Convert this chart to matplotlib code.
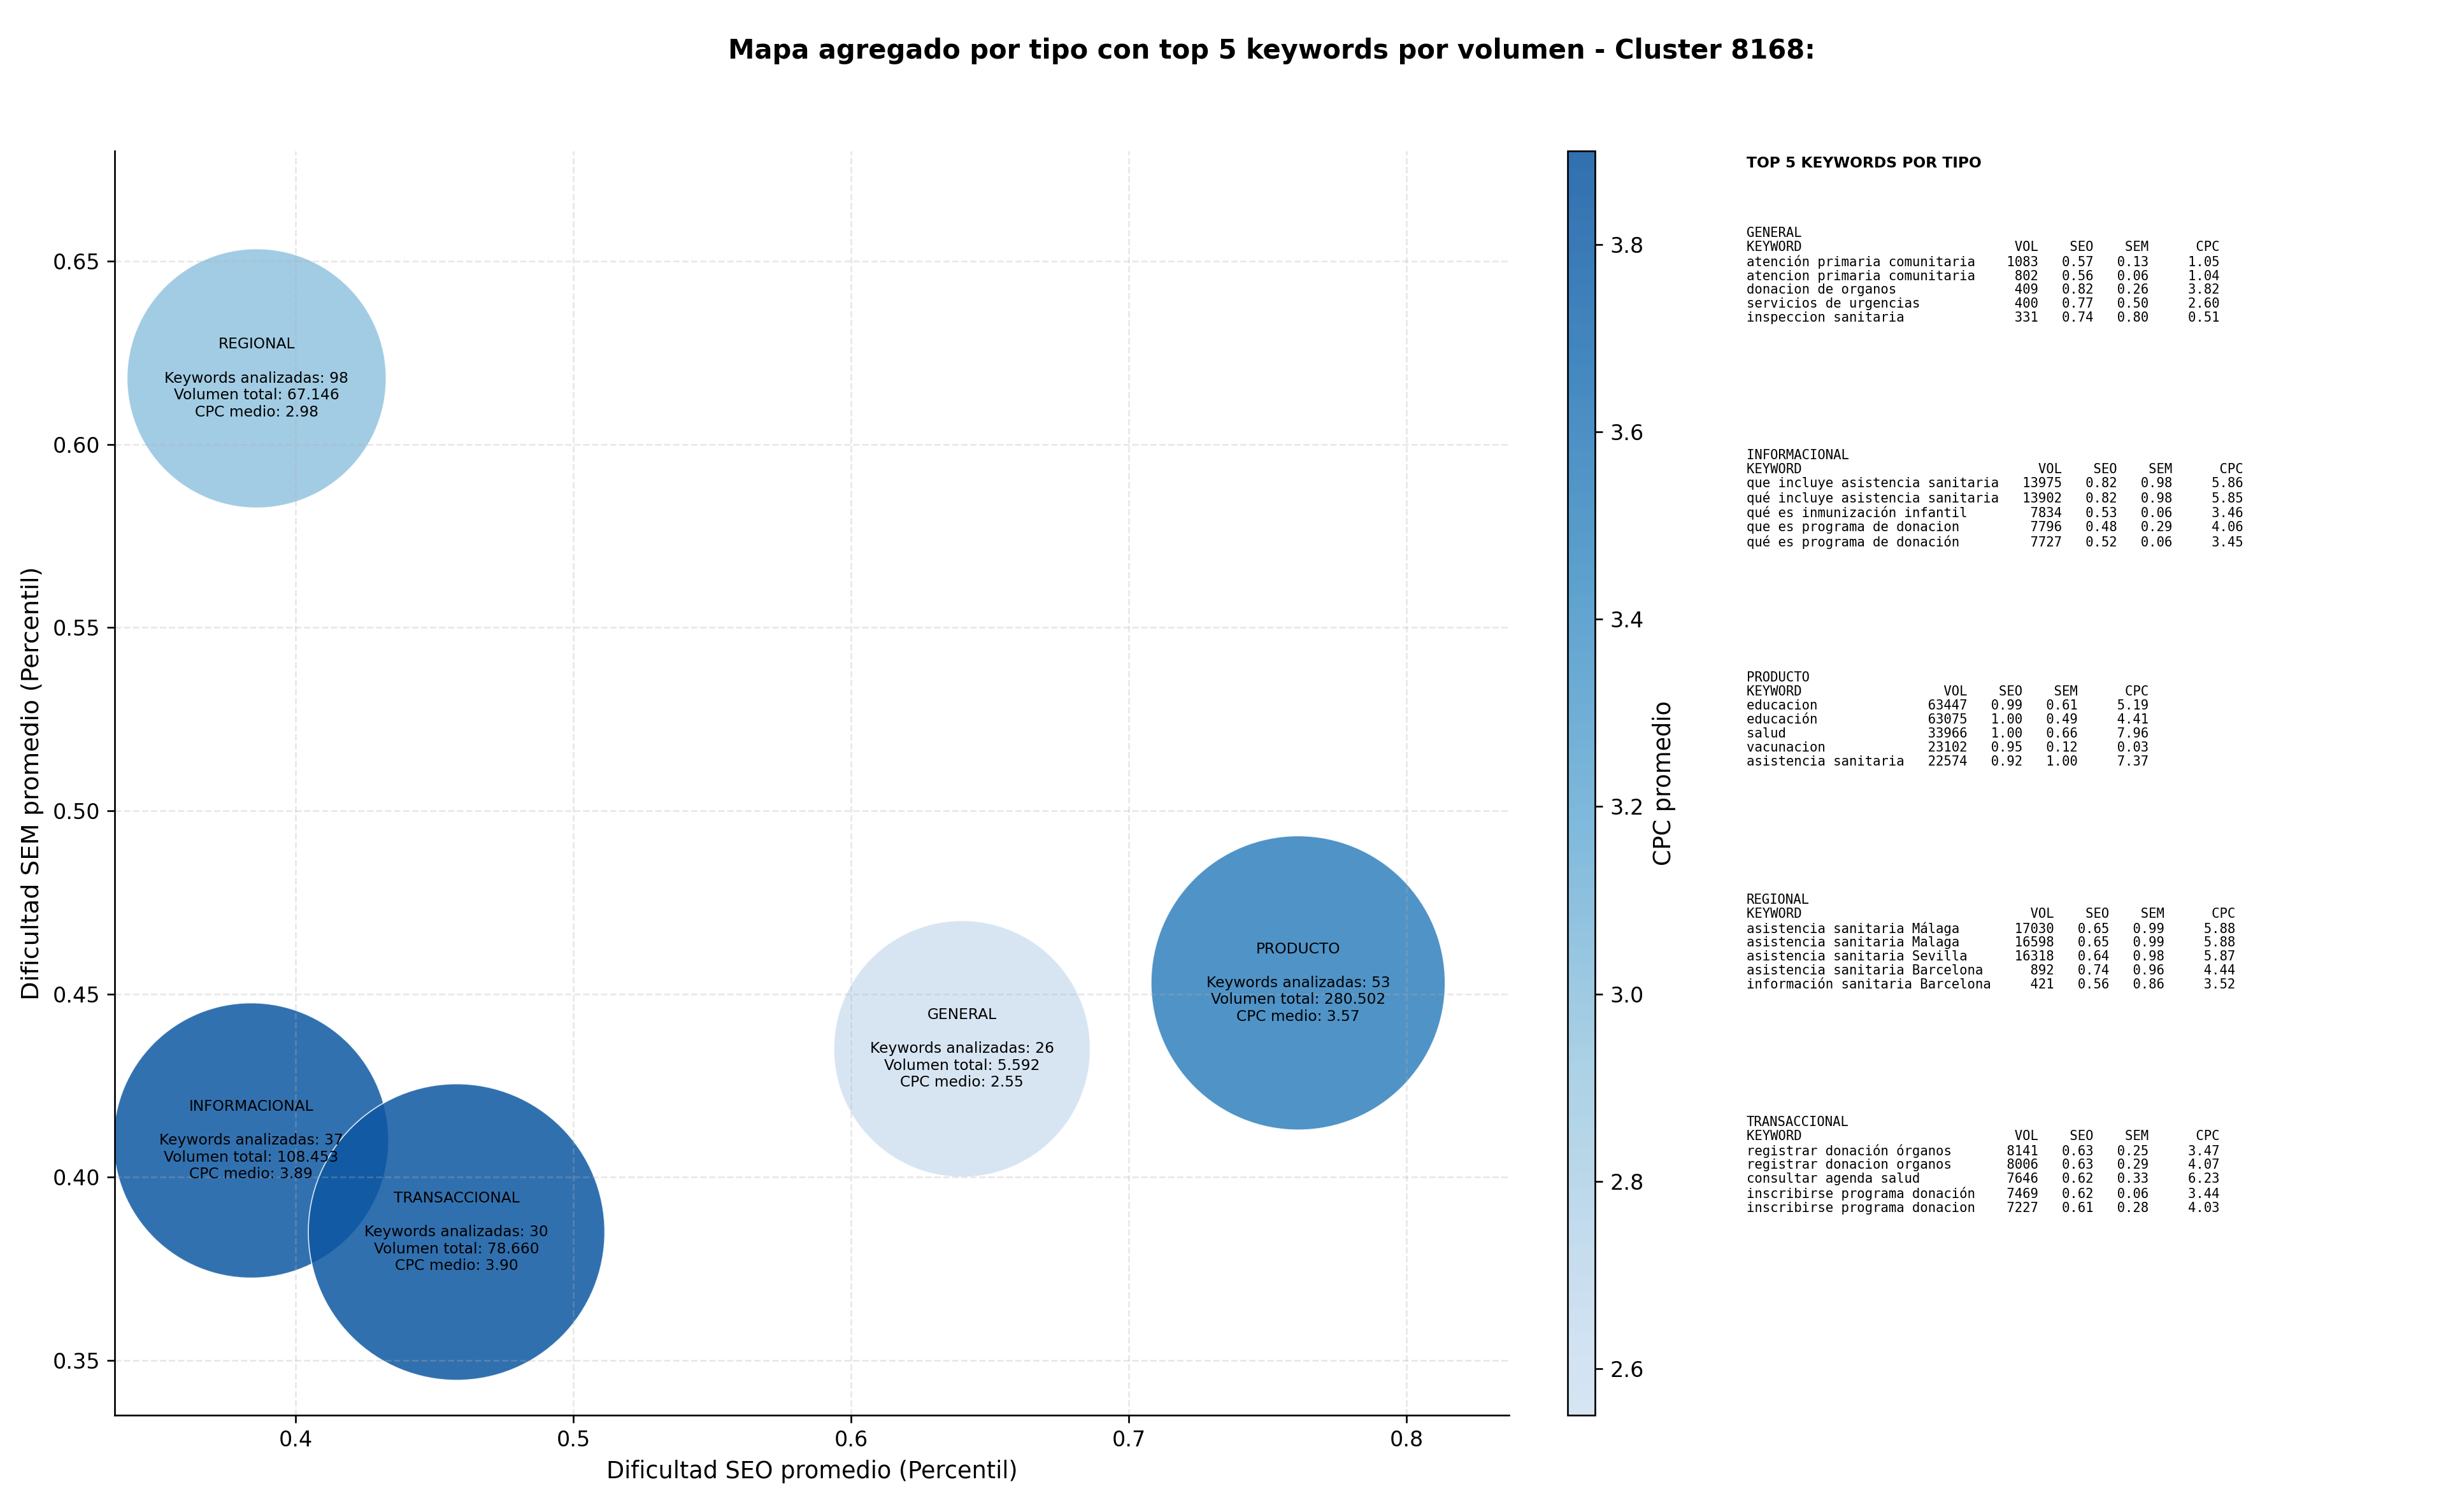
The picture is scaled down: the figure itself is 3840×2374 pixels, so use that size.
import matplotlib
matplotlib.use("Agg")
import matplotlib.pyplot as plt
from matplotlib.colors import ListedColormap
import numpy as np

tipos = ["REGIONAL", "INFORMACIONAL", "TRANSACCIONAL", "GENERAL", "PRODUCTO"]
seo = [0.386, 0.384, 0.458, 0.640, 0.761]
sem = [0.618, 0.410, 0.385, 0.435, 0.453]
n_kw = [98, 37, 30, 26, 53]
vol_total = ["67.146", "108.453", "78.660", "5.592", "280.502"]
cpc = [2.98, 3.89, 3.90, 2.55, 3.57]
bubble_size = [14900, 16800, 19500, 14600, 19200]

top_kw = {
    "GENERAL": [("atención primaria comunitaria", 1083, 0.57, 0.13, 1.05),
                ("atencion primaria comunitaria", 802, 0.56, 0.06, 1.04),
                ("donacion de organos", 409, 0.82, 0.26, 3.82),
                ("servicios de urgencias", 400, 0.77, 0.50, 2.60),
                ("inspeccion sanitaria", 331, 0.74, 0.80, 0.51)],
    "INFORMACIONAL": [("que incluye asistencia sanitaria", 13975, 0.82, 0.98, 5.86),
                      ("qué incluye asistencia sanitaria", 13902, 0.82, 0.98, 5.85),
                      ("qué es inmunización infantil", 7834, 0.53, 0.06, 3.46),
                      ("que es programa de donacion", 7796, 0.48, 0.29, 4.06),
                      ("qué es programa de donación", 7727, 0.52, 0.06, 3.45)],
    "PRODUCTO": [("educacion", 63447, 0.99, 0.61, 5.19),
                 ("educación", 63075, 1.00, 0.49, 4.41),
                 ("salud", 33966, 1.00, 0.66, 7.96),
                 ("vacunacion", 23102, 0.95, 0.12, 0.03),
                 ("asistencia sanitaria", 22574, 0.92, 1.00, 7.37)],
    "REGIONAL": [("asistencia sanitaria Málaga", 17030, 0.65, 0.99, 5.88),
                 ("asistencia sanitaria Malaga", 16598, 0.65, 0.99, 5.88),
                 ("asistencia sanitaria Sevilla", 16318, 0.64, 0.98, 5.87),
                 ("asistencia sanitaria Barcelona", 892, 0.74, 0.96, 4.44),
                 ("información sanitaria Barcelona", 421, 0.56, 0.86, 3.52)],
    "TRANSACCIONAL": [("registrar donación órganos", 8141, 0.63, 0.25, 3.47),
                      ("registrar donacion organos", 8006, 0.63, 0.29, 4.07),
                      ("consultar agenda salud", 7646, 0.62, 0.33, 6.23),
                      ("inscribirse programa donación", 7469, 0.62, 0.06, 3.44),
                      ("inscribirse programa donacion", 7227, 0.61, 0.28, 4.03)],
}

cmap = ListedColormap(plt.get_cmap("Blues")(np.linspace(0.2, 0.85, 256)))

fig = plt.figure(figsize=(16, 2374/240), dpi=240)
ax = fig.add_axes([0.047, 0.064, 0.570, 0.836])
cax = fig.add_axes([0.641, 0.064, 0.011, 0.836])

sc = ax.scatter(seo, sem, s=bubble_size, c=cpc, cmap=cmap, vmin=min(cpc), vmax=max(cpc),
                alpha=0.85, edgecolors="white", linewidths=0.5)
for t, x, y, n, v, c in zip(tipos, seo, sem, n_kw, vol_total, cpc):
    ax.text(x, y, f"{t}\n\nKeywords analizadas: {n}\nVolumen total: {v}\nCPC medio: {c:.2f}",
            ha="center", va="center", fontsize=7)
ax.set_xlim(0.335, 0.837)
ax.set_ylim(0.335, 0.680)
ax.set_xlabel("Dificultad SEO promedio (Percentil)", fontsize=11)
ax.set_ylabel("Dificultad SEM promedio (Percentil)", fontsize=11.5)
ax.grid(True, linestyle="--", alpha=0.3)
ax.spines["top"].set_visible(False)
ax.spines["right"].set_visible(False)
cb = fig.colorbar(sc, cax=cax)
cb.set_label("CPC promedio", fontsize=11)
cb.solids.set_alpha(0.85)

fig.suptitle("Mapa agregado por tipo con top 5 keywords por volumen - Cluster 8168:",
             fontsize=12.5, fontweight="bold", x=0.52, y=0.975)

fig.text(0.714, 0.897, "TOP 5 KEYWORDS POR TIPO", fontsize=7, fontweight="bold", va="top")
y0 = 0.850
for tipo in ["GENERAL", "INFORMACIONAL", "PRODUCTO", "REGIONAL", "TRANSACCIONAL"]:
    rows = top_kw[tipo]
    w = max(len(r[0]) for r in rows) + 2
    lines = [tipo, f"{'KEYWORD':<{w}}{'VOL':>6}{'SEO':>7}{'SEM':>7}{'CPC':>9}"]
    for k, v, s1, s2, c in rows:
        lines.append(f"{k:<{w}}{v:>6}{s1:>7.2f}{s2:>7.2f}{c:>9.2f}")
    fig.text(0.714, y0, "\n".join(lines), fontsize=6.2, family="DejaVu Sans Mono", va="top",
             linespacing=1.12)
    y0 -= 0.147

fig.savefig("out.png", dpi=240)
